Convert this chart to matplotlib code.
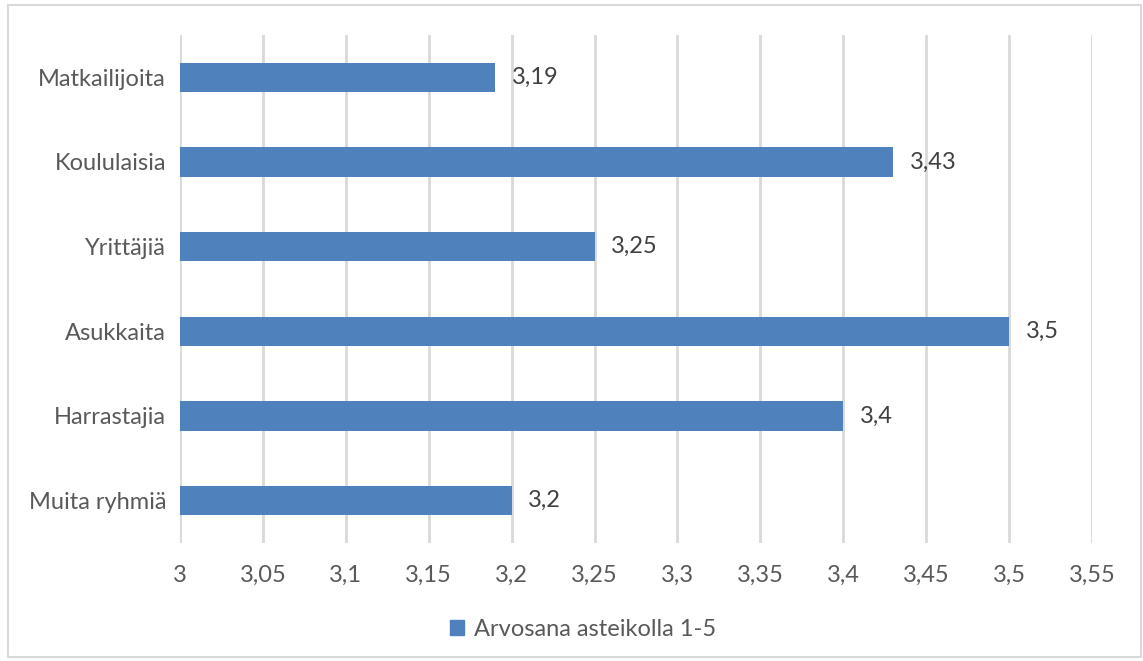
import matplotlib
matplotlib.use("Agg")
import matplotlib.pyplot as plt
from matplotlib.patches import Rectangle

categories = ["Matkailijoita", "Koululaisia", "Yrittäjiä", "Asukkaita", "Harrastajia", "Muita ryhmiä"]
values = [3.19, 3.43, 3.25, 3.5, 3.4, 3.2]
value_labels = ["3,19", "3,43", "3,25", "3,5", "3,4", "3,2"]
xticks = [3.0, 3.05, 3.1, 3.15, 3.2, 3.25, 3.3, 3.35, 3.4, 3.45, 3.5, 3.55]
xtick_labels = ["3", "3,05", "3,1", "3,15", "3,2", "3,25", "3,3", "3,35", "3,4", "3,45", "3,5", "3,55"]
series_name = "Arvosana asteikolla 1-5"

plt.rcParams['font.family'] = ['Lato', 'DejaVu Sans']
bar_color = "#4F81BD"
text_color = "#595959"
fs = 17

fig = plt.figure(figsize=(11.43, 6.61), dpi=100)
fig.patches.append(Rectangle((8/1143, 4/661), 1133/1143, 652/661, transform=fig.transFigure,
                             fill=False, edgecolor="#D9D9D9", linewidth=1.5))
ax = fig.add_axes([180/1143, 1 - 543/661, 912/1143, 508/661])

ypos = list(range(len(categories)))
bars = ax.barh(ypos, [v - 3.0 for v in values], left=3.0, height=0.35, color=bar_color, zorder=3)
for y, v, lab in zip(ypos, values, value_labels):
    ax.annotate(lab, (v, y), xytext=(12, 0), textcoords="offset points", va="center", ha="left",
                fontsize=fs, color="#404040")

ax.set_xlim(3.0, 3.55)
ax.set_ylim(len(categories) - 0.5, -0.5)
ax.set_yticks(ypos)
ax.set_yticklabels(categories, fontsize=fs, color=text_color)
ax.set_xticks(xticks)
ax.set_xticklabels(xtick_labels, fontsize=fs, color=text_color)
ax.tick_params(axis='both', length=0)
ax.tick_params(axis='x', pad=16)
ax.tick_params(axis='y', pad=10)
ax.grid(axis='x', color="#D9D9D9", linewidth=2.0, zorder=0)
for s in ax.spines.values():
    s.set_visible(False)

handle = Rectangle((0, 0), 1, 1, color=bar_color)
fig.legend([handle], [series_name], loc="center", bbox_to_anchor=(583/1143, 1 - 629/661),
           frameon=False, fontsize=fs, handlelength=0.6, handleheight=0.6, handletextpad=0.4,
           labelcolor=text_color)

fig.savefig("out.png", dpi=100)
